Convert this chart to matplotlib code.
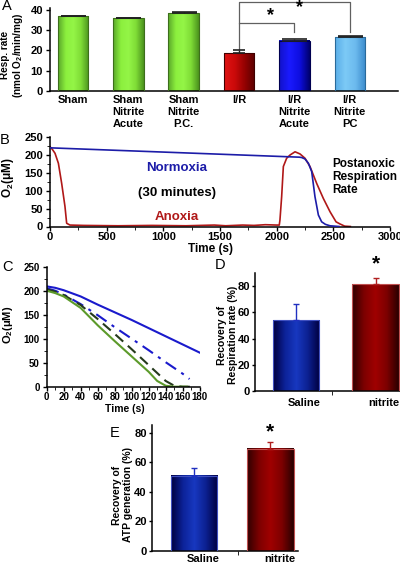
#! /usr/bin/python3

import numpy as np
import matplotlib
matplotlib.use("Agg")
import matplotlib.pyplot as plt
from matplotlib.colors import LinearSegmentedColormap
from matplotlib.ticker import MultipleLocator

### Panel A: respiration rate per group
groups_a = ["Sham", "Sham\nNitrite\nAcute", "Sham\nNitrite\nP.C.", "I/R",
            "I/R\nNitrite\nAcute", "I/R\nNitrite\nPC"]
rate_a = [36.8, 35.9, 38.6, 18.5, 24.8, 26.4]
err_a = [0.4, 0.3, 0.3, 1.5, 0.6, 0.6]

### Panel B: O2 trace, normoxia vs anoxia
time_norm = [0, 2200, 2221, 2250, 2280, 2309, 2338, 2368, 2397, 2430, 2470, 2550]
o2_norm = [219, 193, 192, 188, 176, 153, 83, 32, 13, 6, 2, 0]
time_anox = [0, 20, 44, 74, 103, 132, 147, 176, 300, 600, 900, 1200, 1450, 1550,
             1700, 1800, 1900, 2000, 2023, 2029, 2044, 2059, 2088, 2118, 2162,
             2206, 2250, 2294, 2353, 2412, 2471, 2524, 2559, 2600, 2650]
o2_anox = [222, 215, 204, 176, 120, 56, 9, 4, 3, 2, 3, 2, 4, 2,
           4, 3, 5, 4, 4, 18, 83, 167, 190, 199, 208,
           202, 190, 167, 120, 78, 41, 13, 7, 1, 0]

### Panel C: O2 consumption traces
t_blue = [0, 10, 20, 40, 60, 80, 100, 120, 140, 160, 180]
o2_blue = [209, 206, 201, 188, 171, 155, 139, 122, 105, 88, 71]
t_blue_dd = [0, 10, 20, 40, 60, 80, 100, 120, 140, 160, 168]
o2_blue_dd = [205, 200, 192, 172, 149, 124, 100, 76, 51, 27, 16]
t_dark = [0, 10, 20, 40, 60, 80, 100, 120, 140, 150, 160, 170]
o2_dark = [203, 198, 191, 170, 141, 110, 78, 45, 12, 2, 0, 0]
t_green = [0, 10, 20, 40, 60, 80, 100, 120, 130, 140, 150, 165]
o2_green = [200, 195, 188, 164, 128, 95, 63, 31, 12, 2, 0, 0]

### Panels D and E
groups_de = ["Saline", "nitrite"]
resp_d = [54, 81.4]
err_d = [12, 5]
atp_e = [51, 69.2]
err_e = [5.5, 4.8]

### matplotlib settings
plt.rcParams["font.family"] = ["Liberation Sans", "DejaVu Sans"]
plt.rcParams["font.weight"] = "bold"
plt.rcParams["mathtext.fontset"] = "custom"
plt.rcParams["mathtext.rm"] = "Liberation Sans:bold"
plt.rcParams["mathtext.bf"] = "Liberation Sans:bold"
plt.rcParams["mathtext.it"] = "Liberation Sans:bold"
plt.rcParams["axes.linewidth"] = 1.1

W, H = 400.0, 565.0
fig = plt.figure(figsize=(W / 100, H / 100), dpi=100)


def px_axes(left, right, top, bottom):
    return fig.add_axes([left / W, 1 - bottom / H, (right - left) / W, (bottom - top) / H])


def px_text(x, y, s, **kw):
    fig.text(x / W, 1 - y / H, s, **kw)


def style_axes(ax, size=7, pad=2):
    ax.spines["top"].set_visible(False)
    ax.spines["right"].set_visible(False)
    ax.tick_params(labelsize=size, width=1, length=3, direction="out", pad=pad)
    for lab in ax.get_xticklabels() + ax.get_yticklabels():
        lab.set_fontweight("bold")


def gradient_bar(ax, x, width, height, stops, edge):
    cmap = LinearSegmentedColormap.from_list("bar", stops)
    grad = np.linspace(0, 1, 64).reshape(1, -1)
    ax.imshow(grad, cmap=cmap, aspect="auto", interpolation="bilinear",
              extent=[x - width / 2, x + width / 2, 0, height], zorder=2)
    ax.add_patch(plt.Rectangle((x - width / 2, 0), width, height, fill=False,
                               edgecolor=edge, lw=0.8, zorder=3))


green_stops = ["#5aa82a", "#8cef3e", "#94f547", "#7fdc36", "#4c941e"]
bar_styles_a = [
    (green_stops, "#3d6e1c"), (green_stops, "#3d6e1c"), (green_stops, "#3d6e1c"),
    (["#e01414", "#cc0a0a", "#960202", "#5a0000"], "#400000"),
    (["#1212c8", "#1a1aff", "#0e0ee0", "#00006e"], "#000050"),
    (["#5aaee8", "#7ccaf6", "#6cbaee", "#3a8acb"], "#2a6a9a"),
]
saline_stops = ["#000040", "#0c2298", "#1838c0", "#0c2090", "#000040"]
nitrite_stops = ["#300000", "#7c0000", "#a00000", "#7c0000", "#2a0000"]

### Panel A
ax_a = px_axes(50, 398, 8, 90.7)
for i, (v, e) in enumerate(zip(rate_a, err_a)):
    stops, edge = bar_styles_a[i]
    gradient_bar(ax_a, i, 0.55, v, stops, edge)
    cap = 4.5 if e > 1 else 9
    ax_a.errorbar(i, v, yerr=[[0], [e]], color="#202020", lw=1, capsize=cap,
                  capthick=1.2, zorder=4)
ax_a.set_xlim(-0.415, 5.87)
ax_a.set_ylim(0, 41)
ax_a.set_yticks([0, 10, 20, 30, 40])
ax_a.set_xticks(range(len(groups_a)))
ax_a.set_xticklabels(groups_a, fontsize=7.2, fontweight="bold", linespacing=1.25, va="top")
style_axes(ax_a, 8)
ax_a.tick_params(axis="x", length=0, pad=3)
px_text(12.5, 55, "Resp. rate\n(nmol O$_2$/min/mg)", fontsize=7.2, fontweight="bold",
        rotation=90, ha="center", va="center", linespacing=1.15)

# significance brackets
br_low, br_high, br_foot = 33.7, 43.8, 28.9
ax_a.plot([3, 3, 4, 4], [rate_a[3] + err_a[3] + 0.6, br_low, br_low, br_foot],
          color="#606060", lw=0.9, clip_on=False)
ax_a.plot([3, 3, 5, 5], [br_low, br_high, br_high, br_foot],
          color="#606060", lw=0.9, clip_on=False)
ax_a.text(3.56, br_low + 3.7, "*", ha="center", va="center", fontsize=13, fontweight="bold", clip_on=False)
ax_a.text(4.1, br_high - 2.4, "*", ha="center", va="center", fontsize=13, fontweight="bold", clip_on=False)

### Panel B
ax_b = px_axes(50, 390, 136.7, 226.5)
ax_b.plot(time_norm, o2_norm, color="#1c1ca8", lw=1.2, zorder=3)
ax_b.plot(time_anox, o2_anox, color="#b01818", lw=1.2, zorder=2)
ax_b.set_xlim(0, 3000)
ax_b.set_ylim(0, 250)
ax_b.set_xticks(range(0, 3001, 500))
ax_b.set_yticks(range(0, 251, 50))
ax_b.yaxis.set_minor_locator(MultipleLocator(25))
ax_b.xaxis.set_minor_locator(MultipleLocator(250))
style_axes(ax_b, 8)
ax_b.tick_params(axis="x", pad=1.2)
ax_b.tick_params(which="minor", length=2)
ax_b.text(1120, 163, "Normoxia", color="#1c1ca8", fontsize=9.5, fontweight="bold", ha="center", va="center")
ax_b.text(1118, 92, "(30 minutes)", color="black", fontsize=9.5, fontweight="bold", ha="center", va="center")
ax_b.text(1120, 26, "Anoxia", color="#b01818", fontsize=9.5, fontweight="bold", ha="center", va="center")
ax_b.text(2490, 137, "Postanoxic\nRespiration\nRate", fontsize=8.5, fontweight="bold",
          ha="left", va="center", linespacing=1.1, clip_on=False)
px_text(210, 249, "Time (s)", fontsize=8.5, fontweight="bold", ha="center", va="center")
px_text(8, 178, "O$_2$(μM)", fontsize=8.5, fontweight="bold", rotation=90, ha="center", va="center")

### Panel C
ax_c = px_axes(46.7, 199.7, 266.7, 386.7)
ax_c.plot(t_blue, o2_blue, color="#1a1acc", lw=1.5)
ax_c.plot(t_blue_dd, o2_blue_dd, color="#1a1acc", lw=1.5, dashes=(6, 3, 1.5, 3))
ax_c.plot(t_dark, o2_dark, color="#253a1c", lw=1.5, dashes=(5, 3))
ax_c.plot(t_green, o2_green, color="#5c9a2a", lw=1.5)
ax_c.set_xlim(0, 180)
ax_c.set_ylim(0, 250)
ax_c.set_xticks(range(0, 181, 20))
ax_c.set_yticks(range(0, 251, 50))
ax_c.xaxis.set_minor_locator(MultipleLocator(10))
ax_c.yaxis.set_minor_locator(MultipleLocator(25))
style_axes(ax_c, 7)
ax_c.tick_params(axis="x", pad=1)
ax_c.tick_params(which="minor", length=2)
px_text(125, 408.5, "Time (s)", fontsize=7.5, fontweight="bold", ha="center", va="center")
px_text(8, 325, "O$_2$(μM)", fontsize=8, fontweight="bold", rotation=90, ha="center", va="center")

### Panel D
ax_d = px_axes(255, 400, 273, 391)
gradient_bar(ax_d, 0, 0.58, resp_d[0], saline_stops, "#4050c0")
gradient_bar(ax_d, 1, 0.58, resp_d[1], nitrite_stops, "#c05050")
ax_d.errorbar(0, resp_d[0], yerr=[[0], [err_d[0]]], color="#2030c0", lw=1, capsize=2, zorder=4)
ax_d.errorbar(1, resp_d[1], yerr=[[0], [err_d[1]]], color="#b02020", lw=1, capsize=2, zorder=4)
ax_d.set_xlim(-0.516, 1.308)
ax_d.set_ylim(0, 90)
ax_d.set_yticks([0, 20, 40, 60, 80])
ax_d.set_xticks([0.1, 1.1])
ax_d.set_xticklabels(groups_de)
ax_d.set_xticks([0.45], minor=True)
style_axes(ax_d, 8, pad=1)
ax_d.tick_params(axis="y", length=2.5)
ax_d.tick_params(axis="x", which="major", length=0, pad=5)
ax_d.tick_params(axis="x", which="minor", length=3)
ax_d.text(1.01, 97, "*", ha="center", va="center", fontsize=15, fontweight="bold", clip_on=False)
px_text(227.5, 335, "Recovery of\nRespiration rate (%)", fontsize=7.5, fontweight="bold",
        rotation=90, ha="center", va="center", linespacing=1.1)

### Panel E
ax_e = px_axes(151.7, 298, 425, 551)
gradient_bar(ax_e, 0, 0.61, atp_e[0], saline_stops, "#4050c0")
gradient_bar(ax_e, 1, 0.61, atp_e[1], nitrite_stops, "#c05050")
ax_e.errorbar(0, atp_e[0], yerr=[[0], [err_e[0]]], color="#2030c0", lw=1, capsize=2, zorder=4)
ax_e.errorbar(1, atp_e[1], yerr=[[0], [err_e[1]]], color="#b02020", lw=1, capsize=2, zorder=4)
ax_e.set_xlim(-0.553, 1.36)
ax_e.set_ylim(0, 85.4)
ax_e.set_yticks([0, 20, 40, 60, 80])
ax_e.set_xticks([0.12, 1.12])
ax_e.set_xticklabels(groups_de)
ax_e.set_xticks([0.575], minor=True)
style_axes(ax_e, 8, pad=1)
ax_e.tick_params(axis="y", length=2.5)
ax_e.tick_params(axis="x", which="major", length=0, pad=2.5)
ax_e.tick_params(axis="x", which="minor", length=3)
ax_e.text(1.0, 80.5, "*", ha="center", va="center", fontsize=15, fontweight="bold", clip_on=False)
px_text(122.5, 495, "Recovery of\nATP generation (%)", fontsize=7.5, fontweight="bold",
        rotation=90, ha="center", va="center", linespacing=1.1)

### Panel letters
for x, y, s in [(7, 6, "A"), (5, 140, "B"), (7, 267, "C"), (220, 265, "D"), (115, 433, "E")]:
    px_text(x, y, s, fontsize=10.5, fontweight="normal", ha="center", va="center")

plt.savefig("out.png", dpi=100)
